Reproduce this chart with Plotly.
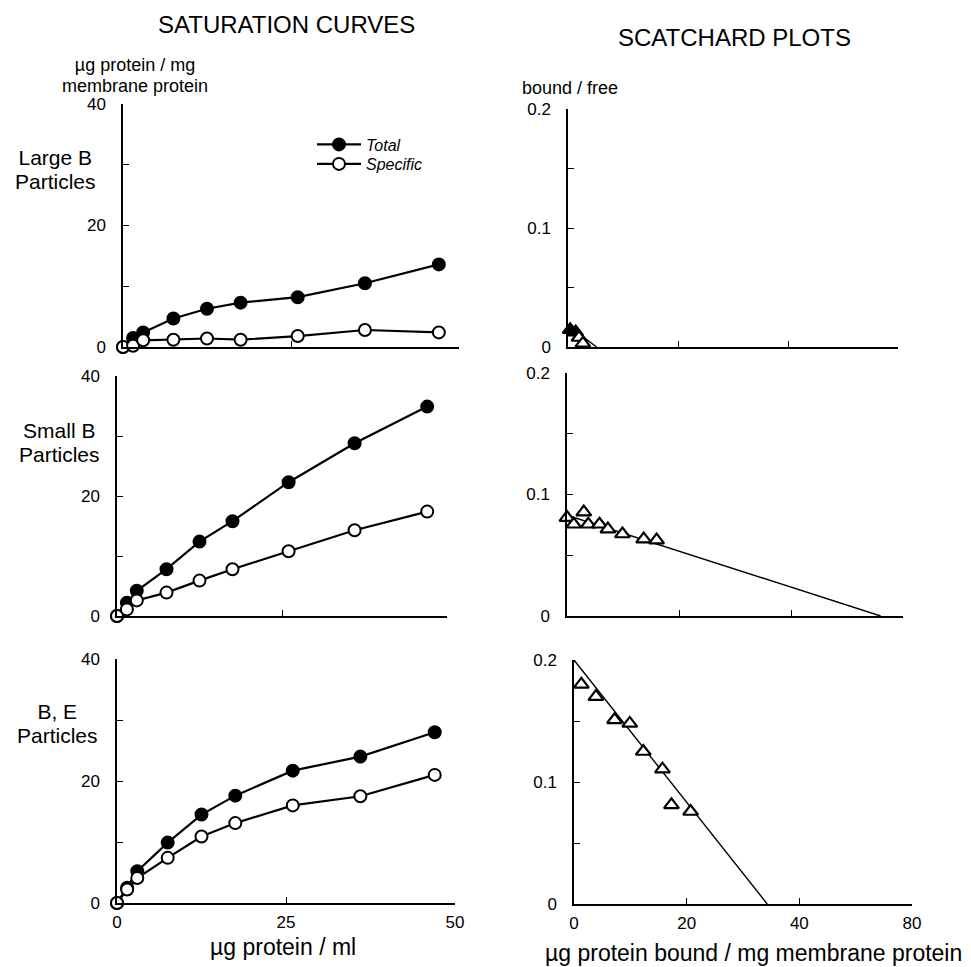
import plotly.graph_objects as go

# ---------------- data ----------------
conc = [0, 1.5, 3, 7.5, 12.5, 17.5, 26, 36, 47]          # µg protein / ml
large_total = [0, 1.5, 2.4, 4.7, 6.3, 7.3, 8.2, 10.5, 13.6]
large_specific = [0, 0.2, 1.1, 1.2, 1.4, 1.2, 1.8, 2.8, 2.4]
small_total = [0, 2.2, 4.2, 7.8, 12.4, 15.8, 22.3, 28.8, 34.9]
small_specific = [0, 1.1, 2.6, 3.9, 5.9, 7.8, 10.8, 14.3, 17.4]
be_total = [0, 2.5, 5.2, 9.9, 14.5, 17.6, 21.7, 24.0, 28.0]
be_specific = [0, 2.2, 4.1, 7.4, 10.9, 13.1, 16.0, 17.5, 21.0]

# Scatchard: bound (µg / mg membrane protein) vs bound/free
large_bound = [0.4, 1.4, 2.0, 2.7]
large_bf = [0.0145, 0.0125, 0.008, 0.003]
large_fit_bound = [0, 5.2]
large_fit_bf = [0.018, 0]

small_bound = [0, 1.2, 3.0, 3.8, 5.8, 7.3, 9.9, 13.7, 16.0]
small_bf = [0.081, 0.0755, 0.0855, 0.0755, 0.0755, 0.0715, 0.0675, 0.0633, 0.0625]
small_fit_bound = [0, 56]
small_fit_bf = [0.083, 0]

be_bound = [1.3, 3.9, 7.2, 9.9, 12.3, 15.7, 17.3, 20.7]
be_bf = [0.180, 0.170, 0.151, 0.148, 0.125, 0.1105, 0.0813, 0.0758]
be_fit_bound = [0, 34.3]
be_fit_bf = [0.2, 0]

left_yticks = [0, 10, 20, 30, 40]
left_yticktext = ["0", "", "20", "", "40"]
left_xticks = [0, 25, 50]
left_xticktext = ["0", "25", "50"]
right_yticks = [0, 0.05, 0.1, 0.15, 0.2]
right_yticktext = ["0", "", "0.1", "", "0.2"]
right_xticks = [0, 20, 40, 60]
right_xticktext = ["0", "20", "40", "80"]

W, H = 971, 967
OFF = 8  # page body margin
FONT = "Liberation Sans, Arial, Helvetica, sans-serif"


def px_x(p):
    return (p - OFF) / W


def px_y(p):
    return 1 - (p - OFF) / H


fig = go.Figure()

# panel layout (pixel boxes on the page: x0, x1, ytop, ybottom)
panels = {
    1: (123, 459, 104, 347),
    2: (117, 447, 376, 616),
    3: (117, 455, 659, 903),
    4: (568, 898, 109, 347),
    5: (567, 903, 373, 616),
    6: (574, 912, 660, 904),
}

line_w = 2.2
msize = 12


def sat(xs, ys, ax, filled, name=None, legend=None):
    fig.add_trace(go.Scatter(
        x=xs, y=ys, mode="lines+markers",
        xaxis="x" + ("" if ax == 1 else str(ax)),
        yaxis="y" + ("" if ax == 1 else str(ax)),
        line=dict(color="black", width=line_w),
        marker=dict(symbol="circle", size=msize,
                    color="black" if filled else "white",
                    line=dict(color="black", width=2)),
        name=name or "", showlegend=name is not None,
        legend=legend or "legend",
        cliponaxis=False,
    ))


sat(conc, large_total, 1, True, "<i>Total</i>", "legend")
sat(conc, large_specific, 1, False, "<i>Specific</i>", "legend2")
sat(conc, small_total, 2, True)
sat(conc, small_specific, 2, False)
sat(conc, be_total, 3, True)
sat(conc, be_specific, 3, False)


def scat(bx, by, fx, fy, ax, colors=None):
    xa = "x" + str(ax)
    ya = "y" + str(ax)
    fig.add_trace(go.Scatter(
        x=fx, y=fy, mode="lines", xaxis=xa, yaxis=ya,
        line=dict(color="black", width=1.4), showlegend=False,
        cliponaxis=False,
    ))
    fig.add_trace(go.Scatter(
        x=bx, y=by, mode="markers", xaxis=xa, yaxis=ya,
        marker=dict(symbol="triangle-up", size=13,
                    color=colors if colors else "white",
                    line=dict(color="black", width=2.2)),
        showlegend=False, cliponaxis=False,
    ))


scat(large_bound, large_bf, large_fit_bound, large_fit_bf, 4,
     colors=["black", "black", "white", "white"])
scat(small_bound, small_bf, small_fit_bound, small_fit_bf, 5)
scat(be_bound, be_bf, be_fit_bound, be_fit_bf, 6)

tickfont = dict(family=FONT, size=17, color="black")
axis_common = dict(
    showgrid=False, zeroline=False, showline=True, linecolor="black",
    linewidth=1.5, ticks="inside", ticklen=6, tickwidth=1.3,
    tickcolor="black", tickfont=tickfont, fixedrange=True,
    automargin=False,
)

layout = {}
for i, (x0, x1, yt, yb) in panels.items():
    sx = "" if i == 1 else str(i)
    left = i <= 3
    bottom = i in (3, 6)
    xa = dict(axis_common)
    ya = dict(axis_common)
    xa.update(domain=[px_x(x0), px_x(x1)], anchor="y" + sx,
              ticklabelstandoff=3)
    ya.update(domain=[px_y(yb), px_y(yt)], anchor="x" + sx,
              ticklabelstandoff=12)
    if left:
        xa.update(range=[0, 50], tickmode="array", tickvals=left_xticks,
                  ticktext=left_xticktext, showticklabels=bottom)
        ya.update(range=[0, 40], tickmode="array", tickvals=left_yticks,
                  ticktext=left_yticktext)
    else:
        xa.update(range=[0, 60], tickmode="array", tickvals=right_xticks,
                  ticktext=right_xticktext, showticklabels=bottom)
        ya.update(range=[0, 0.2], tickmode="array", tickvals=right_yticks,
                  ticktext=right_yticktext)
    layout["xaxis" + sx] = xa
    layout["yaxis" + sx] = ya


def ann(text, x, y, size):
    return dict(text=text, x=px_x(x), y=px_y(y), xref="paper", yref="paper",
                xanchor="center", yanchor="middle", showarrow=False,
                font=dict(family=FONT, size=size, color="black"))


def two_line(l1, l2, x, y, size, spacing):
    # two-line label: line spacing set by the base font size
    base = spacing / 1.3
    txt = ('<span style="font-size:%gpx">%s</span><br>'
           '<span style="font-size:%gpx">%s</span>' % (size, l1, size, l2))
    return ann(txt, x, y, base)


annotations = [
    ann("SATURATION CURVES", 286, 24, 24),
    ann("SCATCHARD PLOTS", 734, 37, 24),
    two_line("µg protein / mg", "membrane protein", 135, 76, 18, 21),
    ann("bound / free", 570, 88, 18),
    two_line("Large B", "Particles", 55, 169, 21, 24),
    two_line("Small B", "Particles", 59, 443, 21, 24),
    two_line("B, E", "Particles", 57, 723, 21, 24),
    ann("µg protein / ml", 283, 947, 23),
    ann("µg protein bound / mg membrane protein", 753, 953, 23),
]

legend_common = dict(
    xanchor="left", yanchor="middle", bgcolor="rgba(0,0,0,0)",
    font=dict(family=FONT, size=16, color="black"),
    borderwidth=0, itemwidth=44, tracegroupgap=0,
)

fig.update_layout(
    width=W, height=H, autosize=False,
    margin=dict(l=0, r=0, t=0, b=0, pad=0, autoexpand=False),
    paper_bgcolor="white", plot_bgcolor="white",
    annotations=annotations,
    legend=dict(legend_common, x=px_x(312), y=px_y(144.5)),
    legend2=dict(legend_common, x=px_x(312), y=px_y(164)),
    **layout,
)

fig.write_html("out.html")
